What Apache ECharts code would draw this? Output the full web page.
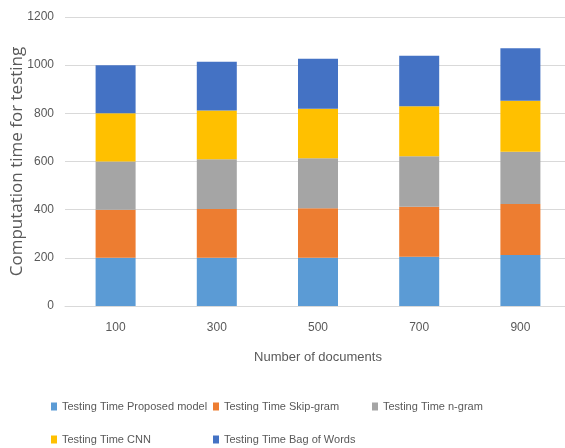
<!DOCTYPE html>
<html>
<head>
<meta charset="utf-8">
<script src="https://cdn.jsdelivr.net/npm/echarts@6/dist/echarts.min.js"></script>
<style>
  html, body { margin: 0; padding: 0; background: #fff; }
  #chart { width: 565px; height: 448px; }
</style>
</head>
<body>
<div id="chart"></div>
<script>
// Number of documents on the x axis
const categories = ['100', '300', '500', '700', '900'];

// Testing time per model (stacked)
const proposedModel = [200, 200, 200, 205, 212];
const skipGram      = [200, 203, 206, 207, 212];
const nGram         = [200, 206, 207, 210, 216];
const cnn           = [200, 203, 206, 207, 212];
const bagOfWords    = [200, 202, 208, 210, 218];

const seriesNames = [
  'Testing Time Proposed model',
  'Testing Time Skip-gram',
  'Testing Time n-gram',
  'Testing Time CNN',
  'Testing Time Bag of Words'
];
const seriesData = [proposedModel, skipGram, nGram, cnn, bagOfWords];
const colors = ['#5b9bd5', '#ed7d31', '#a5a5a5', '#ffc000', '#4472c4'];

const labelFont = '"Liberation Sans", Arial, sans-serif';
const textColor = '#595959';

// One legend per item so each sits in its own column slot
const legendSlots = [
  { left: 46, top: 396 },
  { left: 208, top: 396 },
  { left: 367, top: 396 },
  { left: 46, top: 429 },
  { left: 208, top: 429 }
];
const legends = seriesNames.map((name, i) => ({
  data: [name],
  left: legendSlots[i].left,
  top: legendSlots[i].top,
  itemWidth: 6,
  itemHeight: 8,
  icon: 'rect',
  selectedMode: false,
  textStyle: { color: textColor, fontSize: 11, fontFamily: labelFont }
}));

const chart = echarts.init(document.getElementById('chart'), null, { renderer: 'canvas' });
chart.setOption({
  animation: false,
  color: colors,
  legend: legends,
  grid: { left: 65, top: 17, width: 506, bottom: 142, containLabel: false, outerBoundsMode: 'none' },
  xAxis: {
    type: 'category',
    data: categories,
    name: 'Number of documents',
    nameLocation: 'middle',
    nameGap: 45,
    nameMoveOverlap: false,
    nameTextStyle: { color: textColor, fontSize: 13, fontFamily: labelFont },
    axisLine: { show: true, lineStyle: { color: '#d9d9d9', width: 1 } },
    axisTick: { show: false },
    axisLabel: { color: textColor, fontSize: 12, fontFamily: labelFont, margin: 16 }
  },
  yAxis: {
    type: 'value',
    min: 0,
    max: 1200,
    interval: 200,
    name: 'Computation time for testing',
    nameLocation: 'middle',
    nameGap: 39,
    nameMoveOverlap: false,
    nameTextStyle: { color: textColor, fontSize: 17, fontFamily: '"Open Sans", "Noto Sans", sans-serif' },
    axisLine: { show: false },
    axisTick: { show: false },
    axisLabel: {
      color: textColor, fontSize: 12, fontFamily: labelFont, margin: 11,
      formatter: (v) => String(v)
    },
    splitLine: { lineStyle: { color: '#d9d9d9', width: 1 } }
  },
  series: seriesNames.map((name, i) => ({
    name: name,
    type: 'bar',
    stack: 'total',
    data: seriesData[i],
    barWidth: 40,
    itemStyle: { color: colors[i] }
  }))
});
</script>
</body>
</html>
